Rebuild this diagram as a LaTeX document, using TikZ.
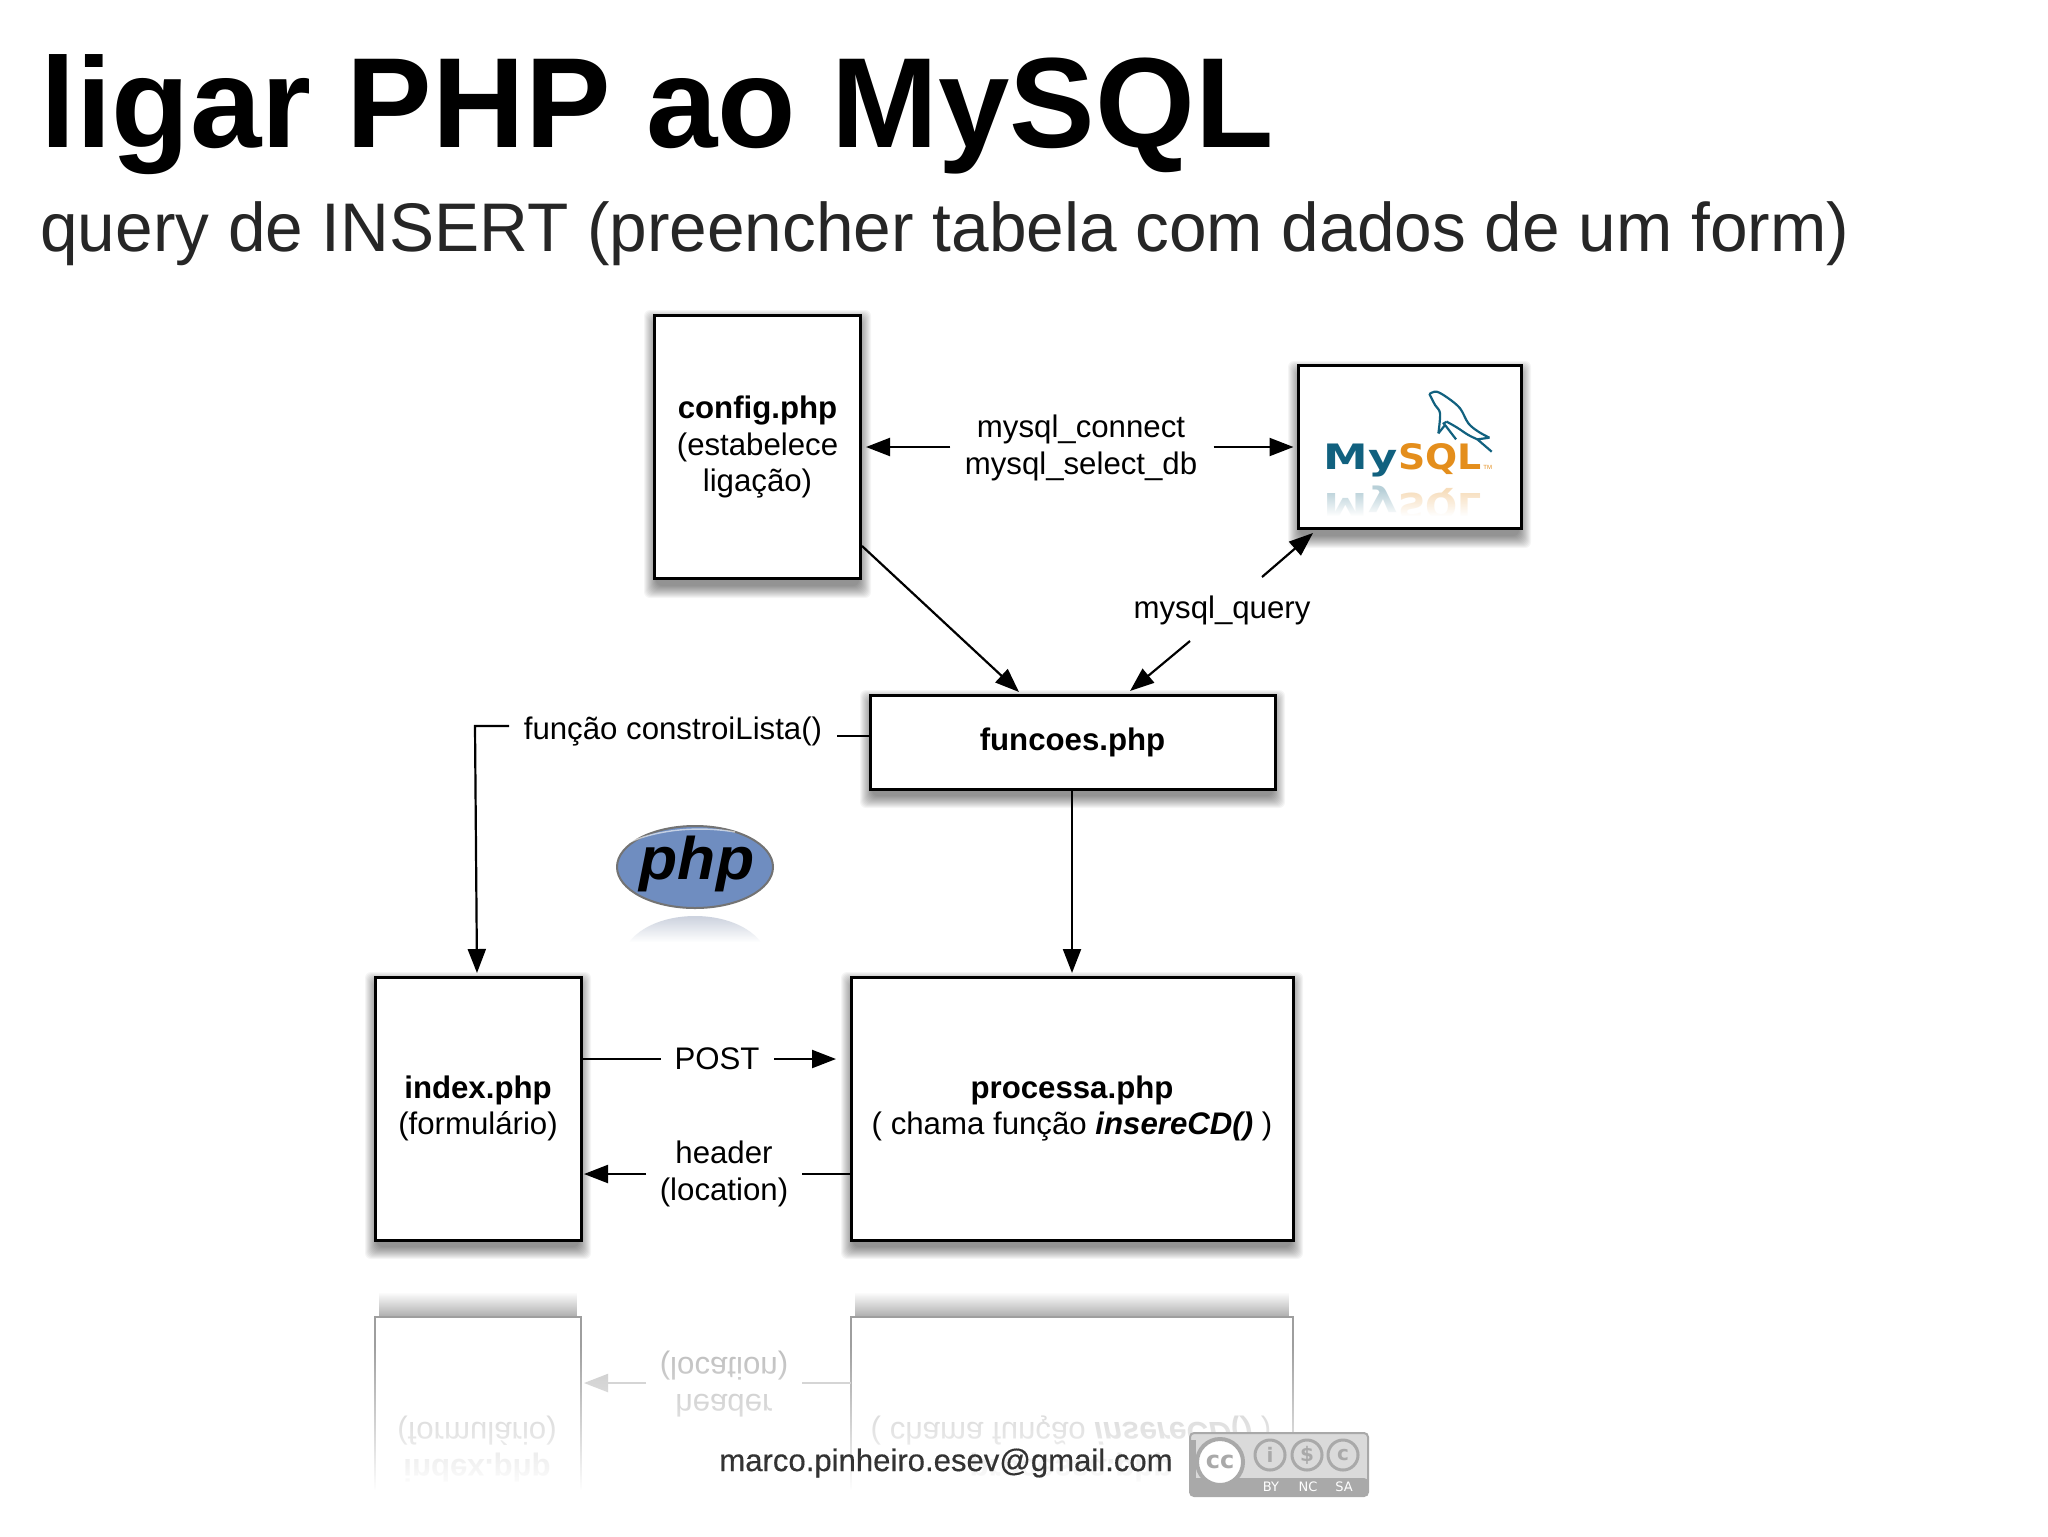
\documentclass[tikz,border=0pt]{standalone}
\usepackage{fontspec}
\setmainfont{Liberation Sans}
\usetikzlibrary{arrows.meta,fadings,positioning,calc}
\newfontfamily\logofont{DejaVu Sans}
\newfontfamily\emailfont[FakeBold=.35]{Liberation Sans}
\definecolor{mysqlblue}{HTML}{11617F}
\definecolor{mysqlorange}{HTML}{E48E1C}
\definecolor{phpblue}{HTML}{6F8DC0}
\definecolor{ccgray}{HTML}{A9A9A9}
\definecolor{cclight}{HTML}{DADADA}
\tikzset{
  x=.5pt,y=-.5pt,
  boxnode/.style={draw=black,line width=1.5pt,fill=white,inner sep=0pt,align=center,
     font=\fontsize{15.6}{18.4}\selectfont},
  lbl/.style={inner sep=0pt,align=center,font=\fontsize{15.6}{18.4}\selectfont},
  arr/.style={draw=black,line width=1.1pt,-{Triangle[length=12pt,width=9pt]}},
  plain/.style={draw=black,line width=1.1pt},
  mirrored/.style={inner sep=0pt,align=center,font=\fontsize{15.6}{18.4}\selectfont,text=black!26,yscale=-1},
  reflbox/.style={draw=black!38,line width=1pt},
  dolphin/.style={draw=mysqlblue,line width=1.1pt,line join=round},
  ccring/.style={circle,draw=ccgray,line width=1.5pt,fill=cclight,minimum size=15pt,inner sep=0pt,text=ccgray,font=\logofont\fontsize{10}{10}\selectfont\bfseries},
  cctext/.style={inner sep=0pt,text=white,font=\logofont\fontsize{6.5}{7}\selectfont}
}
\newcommand{\softshadow}[5][.04]{%
  \foreach \d in {12,11,...,0}{%
    \fill[black,opacity=#1,rounded corners=3pt]
      ({#2-\d+2},{#3-\d+7}) rectangle ({#4+\d-2},{#5+\d+7});
  }%
}
\begin{document}
\begin{tikzpicture}
\useasboundingbox (0,0) rectangle (2048,1536);
\fill[white] (0,0) rectangle (2048,1536);

% title
\node[anchor=base west,inner sep=0pt,font=\fontsize{64.15}{70}\selectfont\bfseries] (title) at (40,148) {ligar PHP ao MySQL};
\node[anchor=base west,inner sep=0pt,xscale=.982,text=black!85,font=\fontsize{34.4}{40}\selectfont] (subtitle) at (40,251) {query de INSERT (preencher tabela com dados de um form)};

% reflection
\begin{scope}
  \fill[black!32,path fading=north] (379,1292) rectangle (577,1317);
  \fill[black!32,path fading=north] (855,1292) rectangle (1289,1317);
  \draw[reflbox] (375,1490) -- (375,1317) -- (581,1317) -- (581,1490);
  \draw[reflbox] (851,1490) -- (851,1317) -- (1293,1317) -- (1293,1490);
  \node[mirrored] (rindex) at (477,1449) {\textbf{index.php}\\(formulário)};
  \node[mirrored] (rproc) at (1071,1449) {\textbf{processa.php}\\( chama função \textbf{\textit{insereCD()}} )};
  \node[mirrored] (rheader) at (724,1384) {header\\(location)};
  \draw[draw=black!22,line width=1pt,-{Triangle[length=12pt,width=9pt]}] (646,1383) -- (584,1383);
  \draw[draw=black!22,line width=1pt] (802,1383) -- (851,1383);
  \fill[white,path fading=north] (300,1345) rectangle (1400,1490);
  \fill[white] (300,1490) rectangle (1400,1536);
\end{scope}

% shadows
\softshadow{654}{315}{861}{579}
\softshadow{1298}{366}{1521}{529}
\softshadow{870}{695}{1275}{789}
\softshadow{375}{977}{581}{1240}
\softshadow{851}{977}{1293}{1240}

% boxes
\node[boxnode,minimum width=206pt*.5,minimum height=263pt*.5] (config) at (757.5,447) {\textbf{config.php}\\(estabelece\\ligação)};
\node[boxnode,minimum width=223pt*.5,minimum height=163pt*.5] (mysql) at (1409.5,447) {};
\node[boxnode,minimum width=405pt*.5,minimum height=94pt*.5] (funcoes) at (1072.5,742) {\textbf{funcoes.php}};
\node[boxnode,minimum width=206pt*.5,minimum height=263pt*.5] (index) at (478,1108.5) {\textbf{index.php}\\(formulário)};
\node[boxnode,minimum width=442pt*.5,minimum height=263pt*.5] (processa) at (1072,1108.5) {\textbf{processa.php}\\( chama função \textbf{\textit{insereCD()}} )};

% labels
\node[lbl] (connect) at (1081,448) {mysql\_connect\\mysql\_select\_db};
\node[lbl] (query) at (1222,610) {mysql\_query};
\node[lbl] (lista) at (673,731) {função constroiLista()};
\node[lbl] (post) at (717,1059) {POST};
\node[lbl] (header) at (724,1174) {header\\(location)};

% connector end points
\coordinate (cfgout) at (862,546);
\coordinate (fnin1) at (1019,692);
\coordinate (fnin2) at (1130,691);
\coordinate (qup) at (1262,577);
\coordinate (qdown) at (1190,641);
\coordinate (myin) at (1313,533);
\coordinate (lstin) at (477,973);
\coordinate (lsta) at (509,726);
\coordinate (lstb) at (475,726);

% connectors
\draw[arr,shorten <=7pt,shorten >=2pt] (connect.west |- mysql.west) -- (config.east);
\draw[arr,shorten <=8pt,shorten >=1.5pt] (connect.east |- mysql.west) -- (mysql.west);
\draw[arr] (cfgout) -- (fnin1);
\draw[arr] (qup) -- (myin);
\draw[arr] (qdown) -- (fnin2);
\draw[plain] (funcoes.west |- 0,736) -- (837,736);
\draw[arr] (lsta) -- (lstb) -- (lstin);
\draw[arr] (funcoes.south -| 1072,0) -- (1072,973);
\draw[plain] (index.east |- 0,1059) -- (661,1059);
\draw[arr] (774,1059) -- (836,1059);
\draw[plain] (processa.west |- 0,1174) -- (802,1174);
\draw[arr] (646,1174) -- (584,1174);

% MySQL logo
\begin{scope}
  \clip (mysql.south west) rectangle (mysql.north east);
  \node[anchor=base west,inner sep=0pt,text=mysqlblue!30,yscale=-1,xscale=1.28,font=\logofont\fontsize{17.5}{20}\selectfont\bfseries] (rmy) at (1323,493) {My};
  \node[anchor=base west,inner sep=0pt,text=mysqlorange!30,yscale=-1,xscale=1.08,font=\logofont\fontsize{17.5}{20}\selectfont\bfseries] (rsql) at (1398,493) {SQL};
  \fill[white,path fading=north] (1305,490) rectangle (1515,516);
  \fill[white] (1305,516) rectangle (1515,527);
\end{scope}
\node[anchor=base west,inner sep=0pt,text=mysqlblue,xscale=1.28,font=\logofont\fontsize{17.5}{20}\selectfont\bfseries] (my) at (1323,469) {My};
\node[anchor=base west,inner sep=0pt,text=mysqlorange,xscale=1.08,font=\logofont\fontsize{17.5}{20}\selectfont\bfseries] (sql) at (1398,469) {SQL};
\node[anchor=base west,inner sep=0pt,text=mysqlorange,font=\fontsize{3}{3}\selectfont] (tm) at (1483,469) {TM};
\begin{scope}[shift={(1260,340)},x=.1667pt,y=-.1667pt]
  \draw[dolphin] plot[smooth,tension=.55] coordinates {(508,162) (530,155) (565,175) (600,205) (625,250) (655,275) (688,293)};
  \draw[dolphin] (688,293) -- (652,298) -- (695,335);
  \draw[dolphin] plot[smooth,tension=.55] coordinates {(652,298) (625,285) (590,262) (560,245)};
  \draw[dolphin] plot[smooth,tension=.55] coordinates {(508,162) (525,195) (540,220) (535,280)};
  \draw[dolphin] (535,280) -- (555,255) -- (588,298);
  \draw[dolphin] (560,245) -- (548,252);
\end{scope}

% PHP logo
\fill[black!22!phpblue!30] (695,960) ellipse (72 and 44);
\fill[white,path fading=north] (600,917) rectangle (790,942);
\fill[white] (600,942) rectangle (790,1005);
\fill[phpblue] (695,867) ellipse (78 and 41);
\draw[draw=black!55,line width=1pt] (695,867) ellipse (78 and 41);
\draw[draw=white,line width=.7pt,opacity=.6] (630,842) .. controls (660,829) and (700,826) .. (735,832);
\node[inner sep=0pt,xscale=1.04,font=\fontsize{30}{30}\selectfont\bfseries\itshape,text=black] (phptext) at (697,864) {php};

% footer
\node[inner sep=0pt,font=\emailfont\fontsize{15.55}{18}\selectfont,text=black!80] (email) at (946,1463) {marco.pinheiro.esev@gmail.com};

% cc badge
\fill[cclight,rounded corners=2pt] (1190,1433) rectangle (1368,1496);
\fill[ccgray,rounded corners=2pt] (1190,1478) rectangle (1368,1496);
\fill[ccgray] (1190,1440) rectangle (1196,1480);
\draw[ccgray,line width=1pt,rounded corners=2pt] (1190,1433) rectangle (1368,1496);
\node[circle,draw=ccgray,line width=2pt,fill=white,minimum size=23pt,inner sep=0pt,text=ccgray,font=\logofont\fontsize{12}{12}\selectfont\bfseries] (ccmain) at (1220,1462) {cc};
\node[ccring] (ccby) at (1270,1455) {i};
\node[ccring] (ccnc) at (1307,1455) {\$};
\node[ccring] (ccsa) at (1343,1455) {c};
\node[cctext] (tby) at (1271,1487) {BY};
\node[cctext] (tnc) at (1308,1487) {NC};
\node[cctext] (tsa) at (1344,1487) {SA};
\end{tikzpicture}
\end{document}
